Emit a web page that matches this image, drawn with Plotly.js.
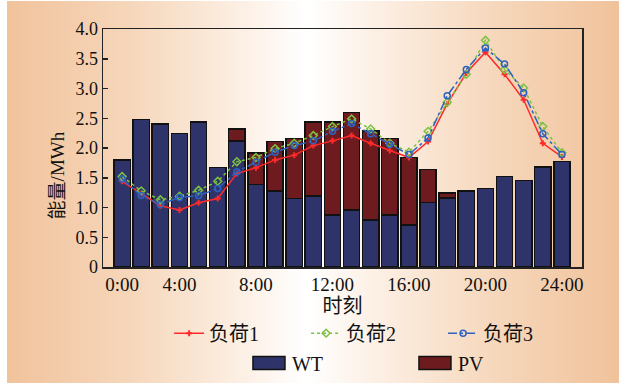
<!DOCTYPE html>
<html>
<head>
<meta charset="utf-8">
<script src="https://cdn.plot.ly/plotly-3.0.1.min.js"></script>
<style>
  html, body { margin: 0; padding: 0; background: #ffffff; }
  #bg { position: absolute; left: 7px; top: 1px; width: 612px; height: 382px;
        background: linear-gradient(to right, #f1c39c 0%, #f6d6ba 20%, #fcefe3 38%, #ffffff 49%, #fcf0e5 60%, #f6d7bb 80%, #f0c29b 100%); }
  #chart { position: absolute; left: 0; top: 0; width: 619px; height: 385px; }
</style>
</head>
<body>
<div id="bg"></div>
<div id="chart"></div>
<script>
// Hour slots (1..24) and tick labels
const slots = [1,2,3,4,5,6,7,8,9,10,11,12,13,14,15,16,17,18,19,20,21,22,23,24];
const tickPos = [1,4,8,12,16,20,24];
const tickLabels = ['0:00','4:00','8:00','12:00','16:00','20:00','24:00'];
const yTickVals = [0,0.5,1,1.5,2,2.5,3,3.5,4];
const yTickText = ['0','0.5','1.0','1.5','2.0','2.5','3.0','3.5','4.0'];

// Energy series (MWh)
const wt = [1.80,2.48,2.40,2.24,2.44,1.67,2.12,1.39,1.28,1.15,1.19,0.87,0.96,0.79,0.87,0.71,1.08,1.16,1.28,1.32,1.52,1.45,1.68,1.77];
const pv = [0,0,0,0,0,0,0.20,0.53,0.83,1.01,1.25,1.57,1.64,1.50,1.29,1.13,0.56,0.08,0,0,0,0,0,0];
const load1 = [1.44,1.23,1.03,0.96,1.08,1.15,1.57,1.67,1.80,1.88,2.04,2.12,2.21,2.08,1.96,1.84,2.11,2.74,3.26,3.61,3.24,2.81,2.08,1.85];
const load2 = [1.52,1.28,1.13,1.19,1.29,1.44,1.77,1.84,1.99,2.08,2.21,2.36,2.49,2.32,2.08,1.93,2.28,2.77,3.24,3.81,3.32,3.01,2.36,1.92];
const load3 = [1.48,1.20,1.05,1.17,1.20,1.32,1.60,1.76,1.93,2.04,2.12,2.28,2.41,2.24,2.06,1.89,2.17,2.88,3.32,3.68,3.41,2.93,2.24,1.89];

const FONT = '"Liberation Serif", "Times New Roman", "Noto Sans CJK SC", serif';

const traces = [
  { type: 'bar', x: slots, y: wt, name: 'WT', legend: 'legend2', width: 0.85,
    marker: { color: '#2e346a', line: { color: '#111111', width: 1.5 } } },
  { type: 'bar', x: slots, y: pv, name: 'PV', legend: 'legend2', width: 0.85,
    marker: { color: '#6e1b1f', line: { color: '#111111', width: 1.5 } } },
  { type: 'scatter', mode: 'lines+markers', x: slots, y: load1, name: '负荷1',
    line: { color: '#ff2a2a', width: 1.5 },
    marker: { symbol: 'cross', size: 5, color: '#ff2a2a' } },
  { type: 'scatter', mode: 'lines+markers', x: slots, y: load2, name: '负荷2',
    line: { color: '#7cc242', width: 1.5, dash: 'dot' },
    marker: { symbol: 'diamond-open', size: 6, color: '#7cc242', line: { width: 1.5 } } },
  { type: 'scatter', mode: 'lines+markers', x: slots, y: load3, name: '负荷3',
    line: { color: '#2e62c0', width: 1.5, dash: 'dashdot' },
    marker: { symbol: 'circle-open', size: 6, color: '#2e62c0', line: { width: 1.5 } } }
];

const layout = {
  width: 619, height: 385,
  margin: { l: 103, r: 37, t: 29, b: 117.5, autoexpand: false },
  paper_bgcolor: 'rgba(0,0,0,0)',
  plot_bgcolor: 'rgba(0,0,0,0)',
  barmode: 'stack',
  font: { family: FONT, size: 18, color: '#111111' },
  xaxis: {
    range: [0, 25.05], tickvals: tickPos, ticktext: tickLabels,
    ticks: '', showgrid: false, zeroline: false,
    showline: true, linecolor: '#222222', linewidth: 1.5, mirror: true,
    tickfont: { family: FONT, size: 19 }, ticklabelstandoff: 0,
    title: { text: '时刻', font: { family: FONT, size: 20 }, standoff: 4 }
  },
  yaxis: {
    range: [0, 4], tickvals: yTickVals, ticktext: yTickText,
    ticks: 'inside', ticklen: 5, tickwidth: 1.5, tickcolor: '#222222',
    showgrid: false, zeroline: false,
    showline: true, linecolor: '#222222', linewidth: 1.5, mirror: true,
    tickfont: { family: FONT, size: 18 }
  },
  annotations: [
    { text: '能量/MWh', xref: 'paper', yref: 'paper', x: -0.096, y: 0.385,
      xanchor: 'center', yanchor: 'middle', textangle: -90, showarrow: false,
      font: { family: FONT, size: 19, color: '#111111' } }
  ],
  legend: {
    orientation: 'h', x: 0.138, xanchor: 'left', y: -0.278, yanchor: 'middle',
    bgcolor: 'rgba(0,0,0,0)', font: { family: FONT, size: 20 },
    entrywidth: 92, entrywidthmode: 'pixels', traceorder: 'normal'
  },
  legend2: {
    orientation: 'h', x: 0.311, xanchor: 'left', y: -0.403, yanchor: 'middle',
    bgcolor: 'rgba(0,0,0,0)', font: { family: FONT, size: 20 },
    entrywidth: 121, entrywidthmode: 'pixels', traceorder: 'normal'
  },
  showlegend: true
};

Plotly.newPlot('chart', traces, layout, { displayModeBar: false, staticPlot: true }).then(function () {
  // widen the bar legend swatches to match the reference's wide rectangles
  try {
    document.querySelectorAll('#chart .legend2 .legendpoints path').forEach(function (p) {
      p.setAttribute('d', 'M13,6.5H-19V-6.5H13Z');
    });
  } catch (e) {}
});
</script>
</body>
</html>
